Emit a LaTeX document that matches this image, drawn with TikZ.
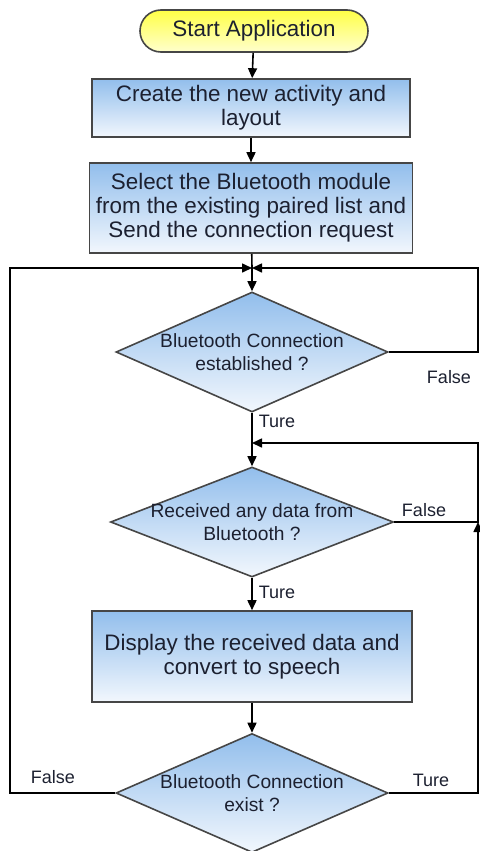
\documentclass[tikz,border=0pt]{standalone}
\usepackage{fontspec}
\setmainfont{Liberation Sans}
\usetikzlibrary{arrows.meta, shapes.geometric}

\definecolor{boxtop}{RGB}{146,190,236}
\definecolor{boxbot}{RGB}{242,247,253}
\definecolor{termtop}{RGB}{255,255,70}
\definecolor{termbot}{RGB}{255,255,205}
\definecolor{inktext}{RGB}{28,32,48}
\definecolor{rim}{RGB}{70,70,70}

\begin{document}
\begin{tikzpicture}[x=0.5pt, y=-0.5pt, line width=0.8pt,
    flow/.style={-{Triangle[length=5pt, width=4.5pt]}},
    terminal/.style={draw=rim, rounded corners=10.5pt, top color=termtop, bottom color=termbot,
      minimum width=114pt, minimum height=21pt, text=inktext, font=\fontsize{11.2}{12}\selectfont},
    process/.style={draw=rim, top color=boxtop, bottom color=boxbot, minimum width=159pt,
      text=inktext, align=center, font=\fontsize{11.2}{11.9}\selectfont},
    decision/.style={draw=rim, diamond, aspect=2.3, inner sep=-3pt, top color=boxtop, bottom color=boxbot,
      text=inktext, align=center, font=\fontsize{9.6}{11.5}\selectfont},
    tag/.style={font=\fontsize{9}{10}\selectfont, text=inktext}]
  \useasboundingbox (0,0) rectangle (480,851);

  \node[terminal] (start) at (254,31) {Start Application};
  \node[process, minimum height=27.5pt] (create) at (251,108) {Create the new activity and\\layout};
  \node[process, minimum height=45pt] (select) at (251,208) {Select the Bluetooth module\\from the existing paired list and\\Send the connection request};
  \coordinate (join1) at (252,268);
  \node[decision, minimum width=136pt, minimum height=60pt] (linked) at (252,352) {Bluetooth Connection\\established ?};
  \coordinate (join2) at (252,443);
  \node[decision, minimum width=141.5pt, minimum height=55pt] (rcv) at (252,522) {Received any data from\\Bluetooth ?};
  \node[process, minimum width=160pt, minimum height=45.5pt] (show) at (252,656.5) {Display the received data and\\convert to speech};
  \node[decision, minimum width=136pt, minimum height=59.5pt] (alive) at (252,793) {Bluetooth Connection\\exist ?};

  \draw[flow] (start) -- (create);
  \draw[flow] (create) -- (select);
  \draw (select) -- (join1);
  \draw[flow] (join1) -- (linked);
  \draw[flow] (linked.east) -- (478,352) -- (478,268) -- (join1);
  \draw[flow] (alive.west) -- (10,793) -- (10,268) -- (join1);
  \draw (linked) -- (join2);
  \draw[flow] (join2) -- (rcv);
  \draw[flow] (rcv.east) -- (478,522) -- (478,443) -- (join2);
  \draw[flow] (rcv) -- (show);
  \draw[flow] (show) -- (alive);
  \draw[flow] (alive.east) -- (478,793) -- (478,522);

  % branch labels
  \node[tag] (t1) at (449,377) {False};
  \node[tag] (t2) at (277,421) {Ture};
  \node[tag] (t3) at (424,510) {False};
  \node[tag] (t4) at (277,592) {Ture};
  \node[tag] (t5) at (53,777) {False};
  \node[tag] (t6) at (431,780) {Ture};
\end{tikzpicture}
\end{document}
